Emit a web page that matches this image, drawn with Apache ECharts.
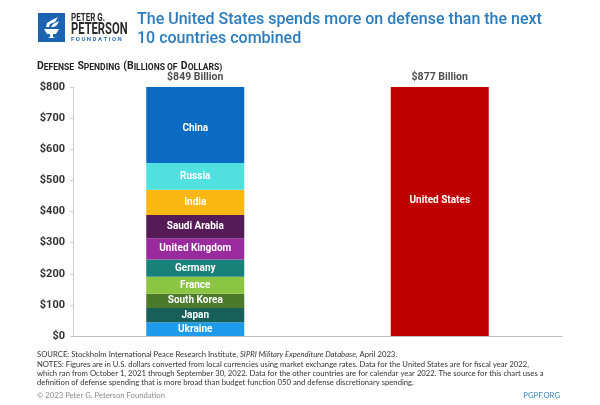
<!DOCTYPE html>
<html>
<head>
<meta charset="utf-8">
<script src="https://cdn.jsdelivr.net/npm/echarts@6/dist/echarts.min.js"></script>
<style>
  html, body { margin: 0; padding: 0; background: #fff; }
  #main { width: 600px; height: 405px; }
</style>
</head>
<body>
<div id="main"></div>
<script>
// stacked column, bottom to top
var countries = ['Ukraine', 'Japan', 'South Korea', 'France', 'Germany', 'United Kingdom', 'Saudi Arabia', 'India', 'Russia', 'China'];
var spending = [44, 46, 46, 54, 56, 68, 75, 81, 86, 293];
var colors = ['#1f9bec', '#185f59', '#4d7a2a', '#8cc541', '#17817a', '#9a2b9f', '#551b56', '#f8b711', '#50e0df', '#0b6bc3'];
var usName = 'United States';
var usSpending = 877;
var categories = ['Next 10', 'United States'];
var yTicks = [0, 100, 200, 300, 400, 500, 600, 700, 800];

var FONT = 'Roboto, "Open Sans", sans-serif';
var othersTotal = 0;
for (var i = 0; i < spending.length; i++) othersTotal += spending[i];
var totals = [othersTotal, usSpending];

function insideLabel(offset) {
    return {
        show: true,
        position: 'inside',
        offset: offset || [0, 0],
        formatter: '{a}',
        color: '#fff',
        fontSize: 10,
        fontWeight: 'bold',
        fontFamily: FONT
    };
}

var series = [];
countries.forEach(function (name, i) {
    series.push({
        name: name,
        type: 'bar',
        stack: 'total',
        barWidth: 98,
        data: [spending[i], '-'],
        itemStyle: { color: colors[i] },
        label: insideLabel(name === 'China' ? [0, 4] : null)
    });
});
series.push({
    name: usName,
    type: 'bar',
    stack: 'total',
    barWidth: 98,
    data: ['-', usSpending],
    itemStyle: { color: '#c00000' },
    label: insideLabel([0, -11])
});
// total labels sit on top of the (clipped) columns
series.push({
    type: 'scatter',
    symbolSize: 0,
    clip: false,
    silent: true,
    data: [[0, yTicks[yTicks.length - 1]], [1, yTicks[yTicks.length - 1]]],
    label: {
        show: true,
        position: 'top',
        distance: 4,
        formatter: function (p) { return '$' + totals[p.dataIndex] + ' Billion'; },
        color: '#222',
        fontSize: 10.5,
        fontWeight: 'bold',
        fontFamily: FONT
    }
});

var myChart = echarts.init(document.getElementById('main'));
var option = {
    animation: false,
    backgroundColor: '#fff',
    grid: { left: 73, right: 38, top: 87, bottom: 69 },
    xAxis: {
        type: 'category',
        data: categories,
        axisLine: { lineStyle: { color: '#bdbdbd', width: 1 } },
        axisTick: { show: false },
        axisLabel: { show: false }
    },
    yAxis: {
        type: 'value',
        min: yTicks[0],
        max: yTicks[yTicks.length - 1],
        interval: 100,
        splitLine: { show: false },
        axisLine: { show: true, lineStyle: { color: '#cfcfcf' } },
        axisTick: { show: true, length: 3, lineStyle: { color: '#cfcfcf' } },
        axisLabel: {
            formatter: function (v) { return '$' + v; },
            color: '#333',
            fontSize: 11,
            fontWeight: 'bold',
            fontFamily: FONT,
            margin: 8
        }
    },
    series: series,
    graphic: [
        // logo
        { type: 'rect', shape: { x: 38, y: 13, width: 27, height: 29 }, style: { fill: '#1c63b1' } },
        { type: 'polygon', shape: { points: [[44, 29], [59, 29], [56, 34], [53, 34], [53, 37], [55, 38], [48, 38], [50, 37], [50, 34], [47, 34]] }, style: { fill: '#fff' } },
        { type: 'polygon', shape: { points: [[46, 27], [47, 23], [52, 20], [58, 17], [55, 22], [50, 24], [49, 27]] }, style: { fill: '#fff' } },
        { type: 'polygon', shape: { points: [[51, 27], [53, 24], [59, 21], [57, 25], [54, 27]] }, style: { fill: '#fff' } },
        { type: 'text', x: 71, y: 13, scaleX: 0.8, style: { text: 'PETER G.', fill: '#2a2a2a', font: 'bold 10px ' + FONT, verticalAlign: 'top' } },
        { type: 'text', x: 71, y: 21.5, scaleX: 0.7, style: { text: 'PETERSON', fill: '#2a2a2a', font: 'bold 16px ' + FONT, verticalAlign: 'top' } },
        { type: 'text', x: 71, y: 36.5, style: { text: 'F O U N D A T I O N', fill: '#2f6fb7', font: 'bold 6px ' + FONT, verticalAlign: 'top' } },
        // title
        { type: 'text', left: 137, top: 10, style: { text: 'The United States spends more on defense than the next\n10 countries combined', fill: '#2b7bbf', font: '500 16px ' + FONT, lineHeight: 19 } },
        // unit subtitle in small caps
        { type: 'text', left: 37, top: 60, style: {
            text: '{a|D}{b|EFENSE} {a|S}{b|PENDING} {a|(B}{b|ILLIONS OF} {a|D}{b|OLLARS)}',
            rich: {
                a: { fontSize: 10.5, fontWeight: 'bold', fontFamily: FONT, fill: '#222', lineHeight: 12, verticalAlign: 'bottom' },
                b: { fontSize: 8.5, fontWeight: 'bold', fontFamily: FONT, fill: '#222', lineHeight: 10, verticalAlign: 'bottom' }
            }
        } },
        // notes
        { type: 'text', left: 37, top: 351, style: {
            text: '{n|SOURCE: Stockholm International Peace Research Institute, }{i|SIPRI Military Expenditure Database}{n|, April 2023.}\n' +
                  '{n|NOTES: Figures are in U.S. dollars converted from local currencies using market exchange rates. Data for the United States are for fiscal year 2022,}\n' +
                  '{n|which ran from October 1, 2021 through September 30, 2022. Data for the other countries are for calendar year 2022. The source for this chart uses a}\n' +
                  '{n|definition of defense spending that is more broad than budget function 050 and defense discretionary spending.}',
            rich: {
                n: { fontSize: 7.7, fontFamily: 'Lato, ' + FONT, fill: '#333', lineHeight: 9.3 },
                i: { fontSize: 7.7, fontFamily: 'Lato, ' + FONT, fontStyle: 'italic', fill: '#333', lineHeight: 9.3 }
            }
        } },
        { type: 'text', left: 37, top: 392, style: { text: '\u00a9 2023 Peter G. Peterson Foundation', fill: '#8a8a8a', font: '7.7px Lato, ' + FONT } },
        { type: 'text', right: 40, top: 392, style: { text: 'PGPF.ORG', fill: '#3a86c8', font: '7.7px Lato, ' + FONT } }
    ]
};
myChart.setOption(option);
</script>
</body>
</html>
